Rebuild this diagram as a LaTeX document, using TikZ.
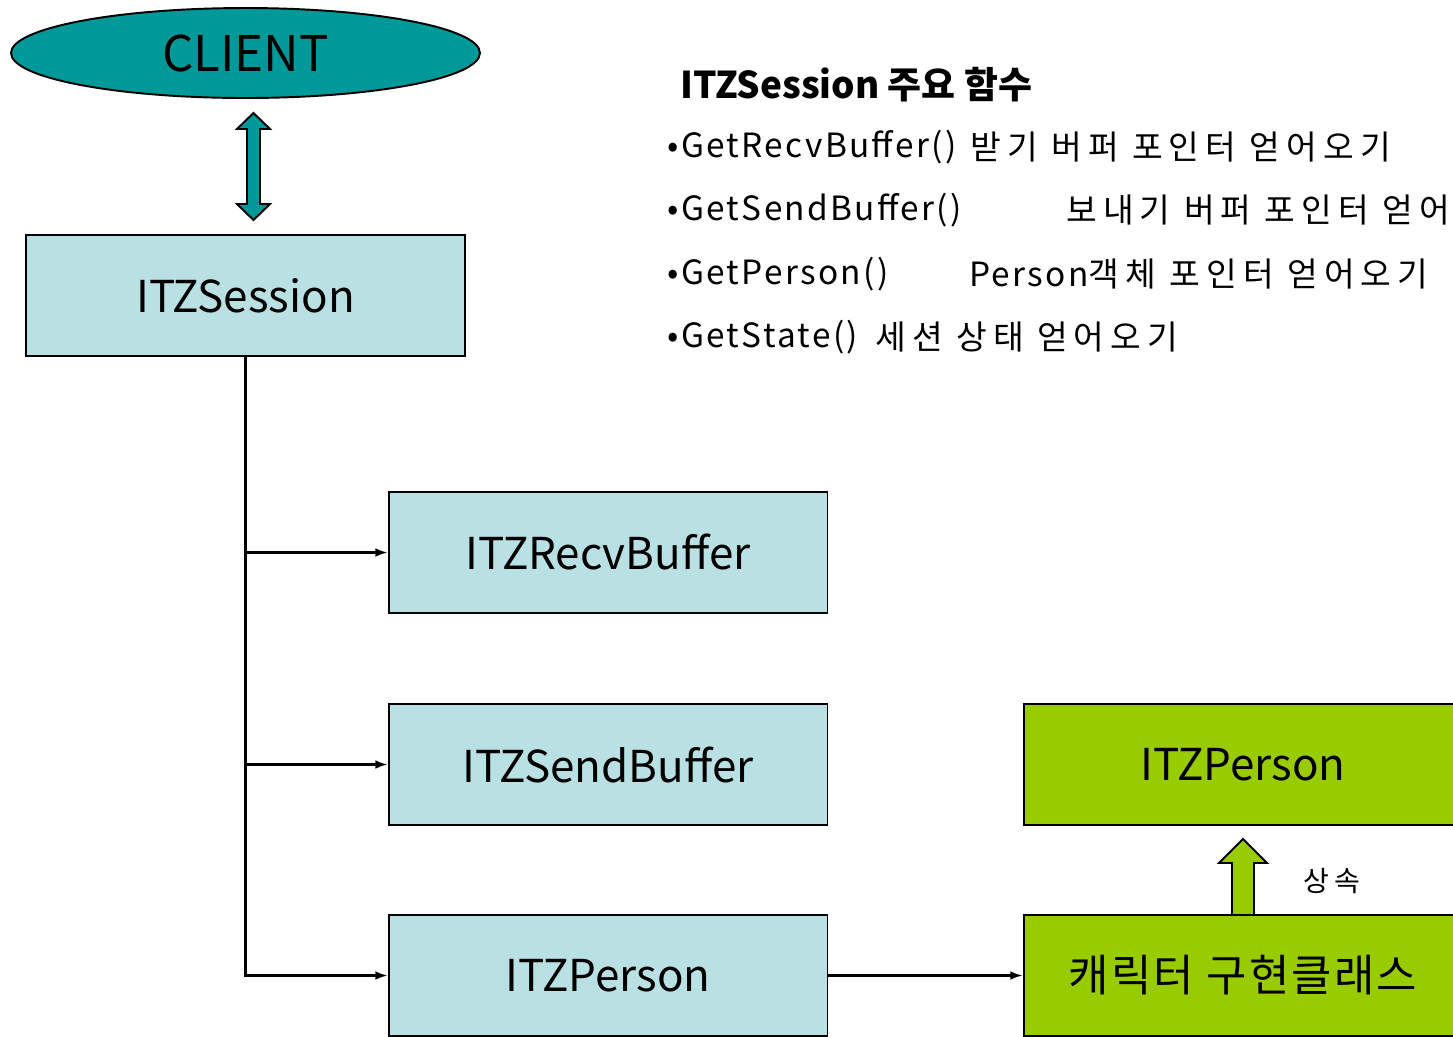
\documentclass[tikz,border=0pt]{standalone}
\usepackage{fontspec}
\setmainfont{Noto Sans CJK KR}
\newfontfamily\fnfont[LetterSpace=7]{Noto Sans CJK KR}
\newfontfamily\krfont[LetterSpace=18]{Noto Sans CJK KR}
\newfontfamily\boxkrfont[LetterSpace=5]{Noto Sans CJK KR}
\usetikzlibrary{shapes.geometric,arrows.meta}
\definecolor{clientcol}{HTML}{009999}
\definecolor{sessioncol}{HTML}{B9E0E3}
\definecolor{personcol}{HTML}{99CC00}

\begin{document}
\begin{tikzpicture}[x=0.02cm,y=-0.02cm,
  blockbox/.style={draw,line width=1.1pt,minimum width=8.78cm,minimum height=2.42cm,inner sep=0pt,font=\fontsize{25}{30}\selectfont},
  listline/.style={anchor=west,inner sep=0pt,font=\fnfont\fontsize{19}{22}\selectfont},
  descline/.style={anchor=west,inner sep=0pt,font=\krfont\fontsize{19}{22}\selectfont},
  link/.style={line width=1.2pt,-{Latex[length=7pt,width=5pt]}}]
\useasboundingbox (0,0) rectangle (1453,1036);
\clip (0,0) rectangle (1453,1036);

\def\fnx{667}
\def\rowa{147}
\def\rowgap{63.5}

% client and session
\node[ellipse,draw,line width=1.1pt,fill=clientcol,minimum width=9.38cm,minimum height=1.8cm,inner sep=0pt,font=\fontsize{28}{30}\selectfont] (client) at (245.5,53) {CLIENT};
\draw[line width=1.1pt,fill=clientcol] (253.5,113) -- (270,129) -- (260,129) -- (260,204) -- (270,204) -- (253.5,220) -- (237,204) -- (247,204) -- (247,129) -- (237,129) -- cycle;
\node[blockbox,fill=sessioncol] (session) at (245.5,295.5) {ITZSession};

\node[blockbox,fill=sessioncol] (recv) at (608,552.5) {ITZRecvBuffer};
\node[blockbox,fill=sessioncol] (sendb) at (608,764.5) {ITZSendBuffer};
\node[blockbox,fill=sessioncol] (person) at (608,975.5) {ITZPerson};

\draw[link] (session.south) |- (recv.west);
\draw[link] (session.south) |- (sendb.west);
\draw[link] (session.south) |- (person.west);

% person classes
\node[blockbox,fill=personcol] (parent) at (1243,764.5) {ITZPerson};
\node[blockbox,fill=personcol,font=\boxkrfont\fontsize{25}{30}\selectfont] (charclass) at (1243,975.5) {캐릭터 구현클래스};
\draw[link] (person.east) -- (charclass.west);
\draw[line width=1.1pt,fill=personcol] (1232,915) -- (1232,863) -- (1219,863) -- (1243,839) -- (1267,863) -- (1254,863) -- (1254,915) -- cycle;
\node[font=\krfont\fontsize{16}{18}\selectfont] (inherit) at (1332,881) {상속};

% function list
\node[anchor=west,inner sep=0pt,font=\bfseries\fontsize{21}{24}\selectfont] (title) at (680,85) {ITZSession 주요 함수};
\node[listline] (fn1) at (\fnx,\rowa) {•GetRecvBuffer()};
\node[descline] (desc1) at (970,\rowa) {받기 버퍼 포인터 얻어오기};
\node[listline] (fn2) at (\fnx,\rowa+\rowgap) {•GetSendBuffer()};
\node[descline] (desc2) at (1066,\rowa+\rowgap) {보내기 버퍼 포인터 얻어오기};
\node[listline] (fn3) at (\fnx,\rowa+2*\rowgap) {•GetPerson()};
\node[descline] (desc3) at (969,\rowa+2*\rowgap) {{\fnfont Person}객체 포인터 얻어오기};
\node[listline] (fn4) at (\fnx,\rowa+3*\rowgap) {•GetState()};
\node[descline] (desc4) at (875,\rowa+3*\rowgap) {세션 상태 얻어오기};

\end{tikzpicture}
\end{document}
